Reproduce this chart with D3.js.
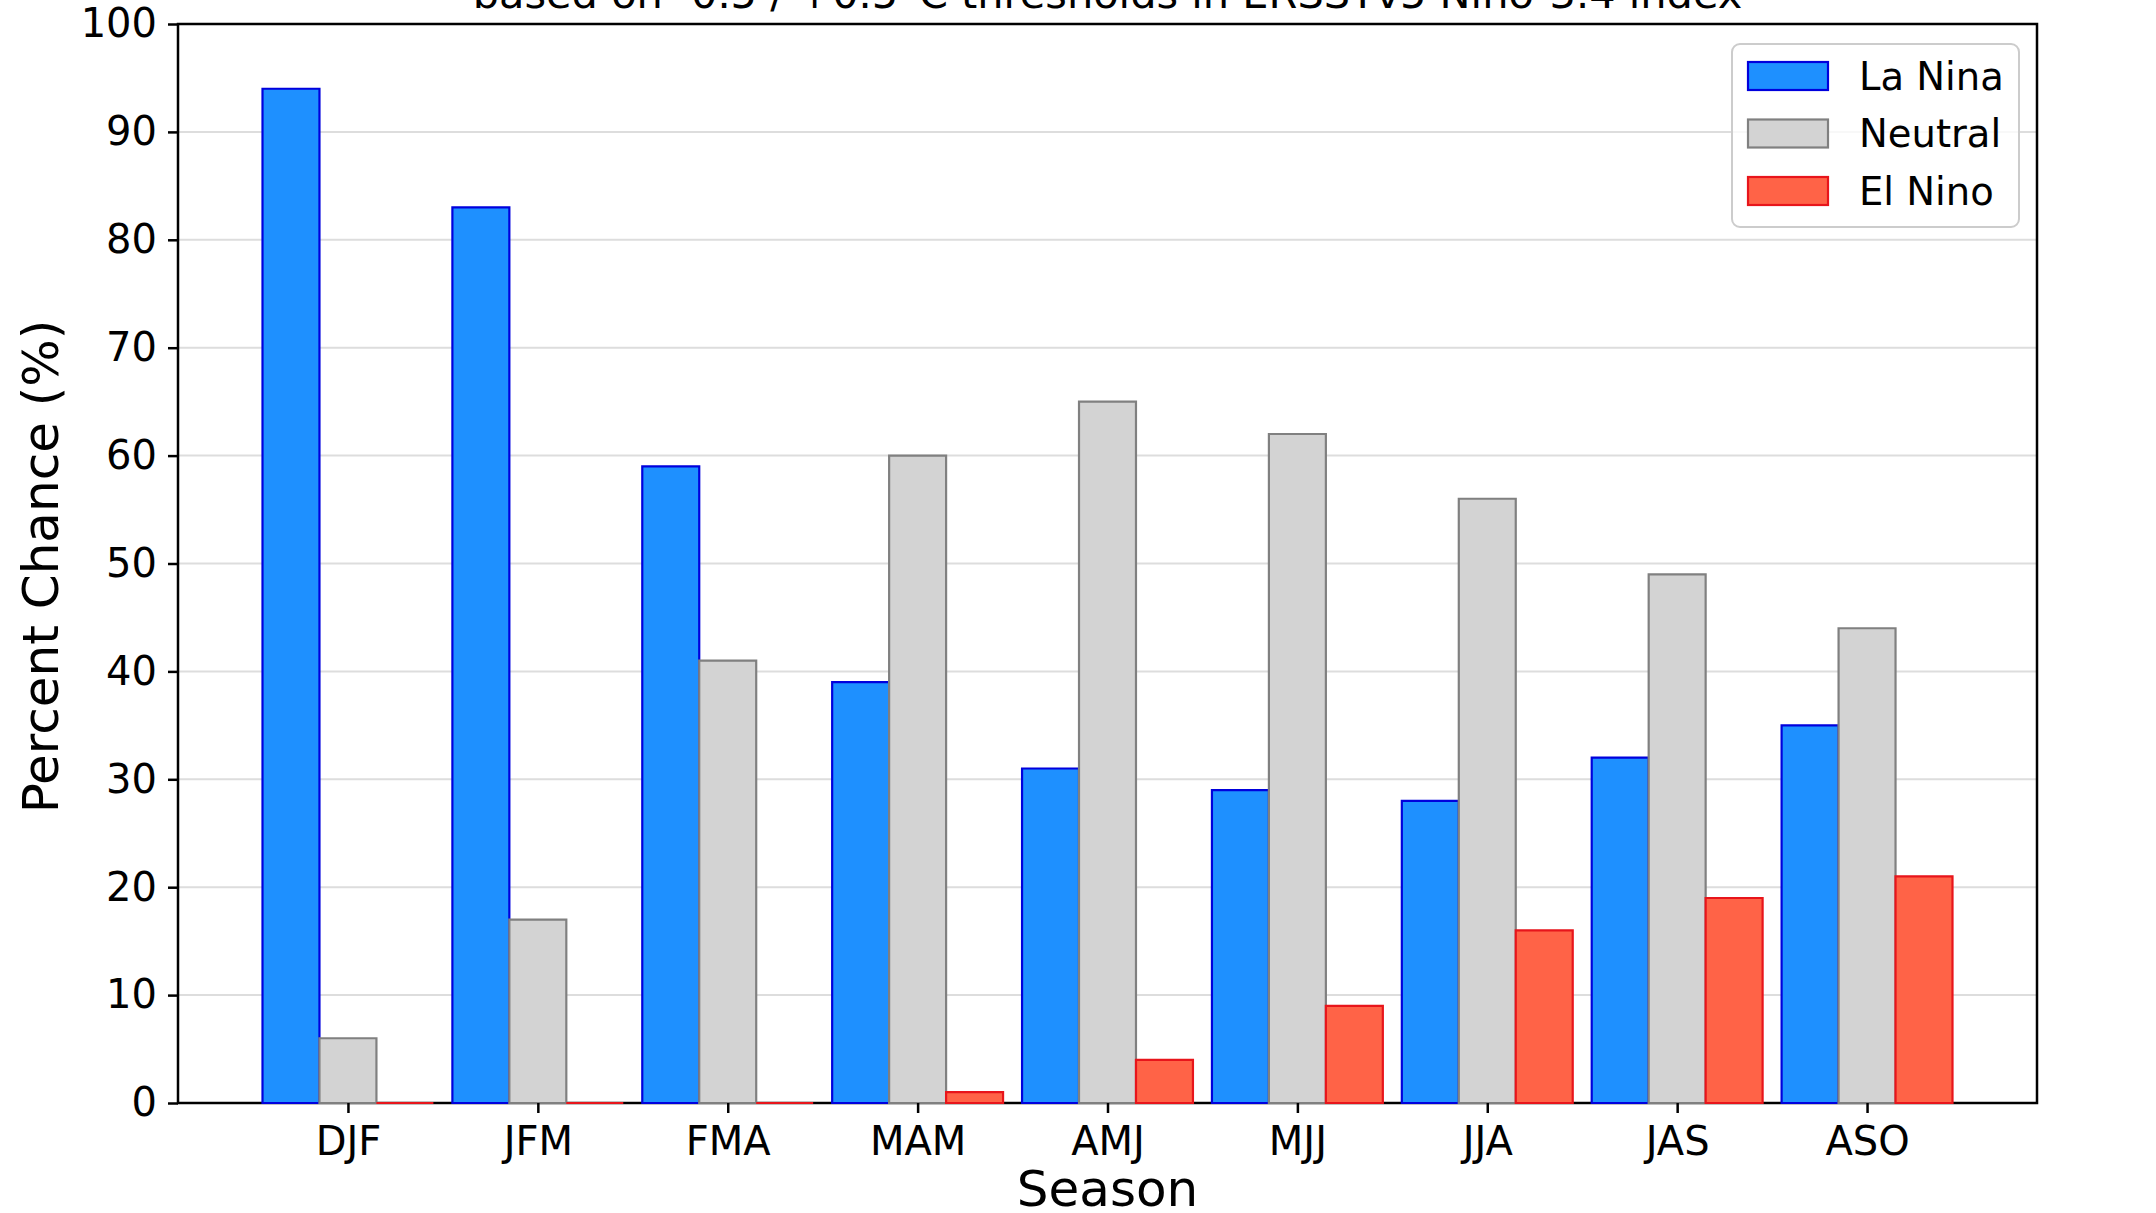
<!DOCTYPE html>
<html>
<head>
<meta charset="utf-8">
<script src="https://cdn.jsdelivr.net/npm/d3@7"></script>
<style>
  html, body { margin: 0; padding: 0; background: #ffffff; }
  svg { display: block; font-family: "DejaVu Sans", sans-serif; }
</style>
</head>
<body>
<svg id="chart" width="2156" height="1213"></svg>
<script>
// ---- Data ----
const seasons = ["DJF", "JFM", "FMA", "MAM", "AMJ", "MJJ", "JJA", "JAS", "ASO"];
const laNina  = [94, 83, 59, 39, 31, 29, 28, 32, 35];
const neutral = [6, 17, 41, 60, 65, 62, 56, 49, 44];
const elNino  = [0, 0, 0, 1, 4, 9, 16, 19, 21];
const seriesNames = ["La Nina", "Neutral", "El Nino"];
const yTicks = [0, 10, 20, 30, 40, 50, 60, 70, 80, 90, 100];
const titleText = "based on -0.5 / +0.5°C thresholds in ERSSTv5 Nino-3.4 index";
const xLabel = "Season";
const yLabel = "Percent Chance (%)";

// ---- Styles ----
const series = [
  { name: seriesNames[0], values: laNina,  offset: -0.3, fill: "#1e90ff", stroke: "#0000dd" },
  { name: seriesNames[1], values: neutral, offset: 0.0,  fill: "#d3d3d3", stroke: "#808080" },
  { name: seriesNames[2], values: elNino,  offset: 0.3,  fill: "#ff6347", stroke: "#e8151b" }
];
const barW = 0.3;

const svg = d3.select("#chart");
const plotL = 178, plotR = 2037, plotT = 24, plotB = 1103;

// x domain with matplotlib-like 5% margins
const dMin = -0.3 - barW / 2, dMax = (seasons.length - 1) + 0.3 + barW / 2;
const pad = (dMax - dMin) * 0.05;
const x = d3.scaleLinear().domain([dMin - pad, dMax + pad]).range([plotL, plotR]);
const y = d3.scaleLinear().domain([0, 100]).range([plotB, plotT]);

// Grid
svg.append("g").selectAll("line")
  .data(yTicks.filter(t => t > 0 && t < 100))
  .join("line")
  .attr("x1", plotL).attr("x2", plotR)
  .attr("y1", d => y(d)).attr("y2", d => y(d))
  .attr("stroke", "#dddddd").attr("stroke-width", 2);

// Frame
svg.append("rect")
  .attr("x", plotL).attr("y", plotT)
  .attr("width", plotR - plotL).attr("height", plotB - plotT)
  .attr("fill", "none").attr("stroke", "#000").attr("stroke-width", 2.5);

// Bars
series.forEach(s => {
  svg.append("g").selectAll("path")
    .data(s.values)
    .join("path")
    .attr("d", (v, i) => {
      const x0 = x(i + s.offset - barW / 2), x1 = x(i + s.offset + barW / 2);
      const y0 = y(0), y1 = y(v);
      return `M${x0},${y0}H${x1}V${y1}H${x0}Z`;
    })
    .attr("fill", s.fill)
    .attr("stroke", s.stroke)
    .attr("stroke-width", 2.2);
});

// Axes
const yAxis = d3.axisLeft(y).tickValues(yTicks).tickSize(10).tickPadding(11).tickFormat(d3.format("d"));
const gy = svg.append("g").attr("transform", `translate(${plotL},0)`).call(yAxis);
gy.select(".domain").remove();
gy.selectAll("line").attr("stroke", "#000").attr("stroke-width", 2.5);
gy.selectAll("text").attr("font-size", 40).attr("fill", "#000").attr("font-family", "DejaVu Sans");

const xAxis = d3.axisBottom(x).tickValues(d3.range(seasons.length)).tickSize(10).tickPadding(14)
  .tickFormat(i => seasons[i]);
const gx = svg.append("g").attr("transform", `translate(0,${plotB})`).call(xAxis);
gx.select(".domain").remove();
gx.selectAll("line").attr("stroke", "#000").attr("stroke-width", 2.5);
gx.selectAll("text").attr("font-size", 40).attr("fill", "#000").attr("font-family", "DejaVu Sans");

// Labels
svg.append("text")
  .attr("x", (plotL + plotR) / 2).attr("y", 1206)
  .attr("text-anchor", "middle").attr("font-size", 50)
  .text(xLabel);
svg.append("text")
  .attr("transform", `translate(58,${(plotT + plotB) / 2 + 3}) rotate(-90)`)
  .attr("text-anchor", "middle").attr("font-size", 50)
  .text(yLabel);

// Title (partly clipped at top, as in the reference)
svg.append("text")
  .attr("x", (plotL + plotR) / 2).attr("y", 8)
  .attr("text-anchor", "middle").attr("font-size", 41.5)
  .text(titleText);

// Legend
const lg = svg.append("g");
lg.append("rect")
  .attr("x", 1732).attr("y", 44).attr("width", 287).attr("height", 183)
  .attr("rx", 8).attr("fill", "#ffffff").attr("fill-opacity", 0.8)
  .attr("stroke", "#cccccc").attr("stroke-width", 2);
series.forEach((s, k) => {
  const yy = 62 + k * 57.5;
  lg.append("rect")
    .attr("x", 1748).attr("y", yy).attr("width", 80).attr("height", 28)
    .attr("fill", s.fill).attr("stroke", s.stroke).attr("stroke-width", 2.2);
  lg.append("text")
    .attr("x", 1859).attr("y", yy + 14).attr("dy", "0.36em")
    .attr("font-size", 38.5)
    .text(s.name);
});
</script>
</body>
</html>
